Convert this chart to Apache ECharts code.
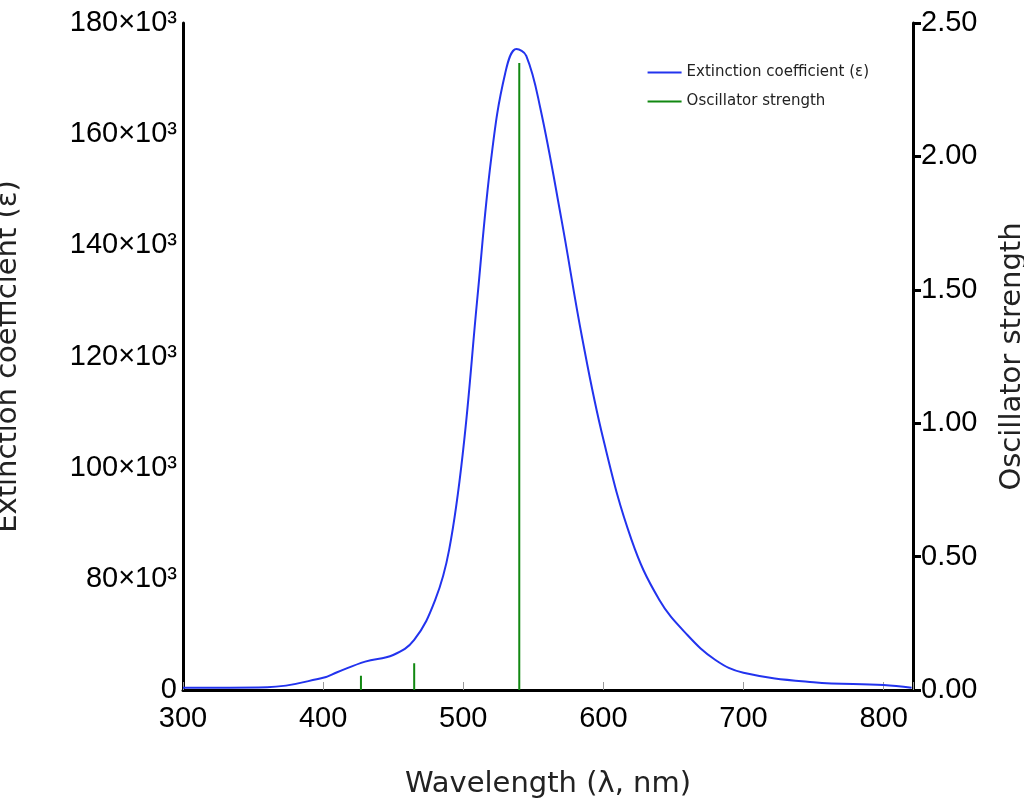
<!DOCTYPE html>
<html lang="en">
  <head>
    <meta charset="UTF-8" />
    <title>Spectrum</title>
    <script src="https://cdn.jsdelivr.net/npm/echarts@6/dist/echarts.min.js"></script>
  </head>
  <body style="margin: 0">
    <div id="chart" style="width: 1024px; height: 811px"></div>
    <script>
      // wavelength (nm) and extinction coefficient (in 10^3)
      var wavelengths = [300, 360, 400, 410, 430, 450, 465, 480, 490, 500, 510, 520, 530, 538, 545, 555, 570, 585, 600, 620, 640, 660, 680, 700, 750, 800, 820];
      var extinction = [60.4, 60.5, 62.2, 63.2, 65.1, 66.3, 69.0, 76.2, 85.3, 103.3, 130.3, 155.7, 171.0, 175.3, 174.1, 164.7, 144.8, 123.2, 105.1, 87.1, 76.2, 69.9, 65.4, 63.1, 61.4, 60.9, 60.4];
      // oscillator strength sticks
      var oscWavelengths = [427, 465, 540];
      var oscStrength = [0.053, 0.1, 2.35];

      var myChart = echarts.init(document.getElementById("chart"));
      var lineData = wavelengths.map(function (w, i) {
        return [w, extinction[i] * 1000];
      });
      var stickData = [];
      oscWavelengths.forEach(function (w, i) {
        stickData.push([w, 0], [w, oscStrength[i]], [w, null]);
      });

      var option = {
        animation: false,
        grid: { left: 183, right: 111, top: 23, bottom: 121, containLabel: false, outerBoundsMode: "none" },
        legend: {
          right: 150,
          top: 60,
          orient: "vertical",
          itemWidth: 34,
          itemHeight: 2,
          itemGap: 14,
          textStyle: { fontSize: 15, fontFamily: "DejaVu Sans", color: "#222" },
          data: [
            { name: "Extinction coefficient (\u03b5)", icon: "rect", itemStyle: { color: "#2233ee" } },
            { name: "Oscillator strength", icon: "rect", itemStyle: { color: "#118811" } },
          ],
        },
        xAxis: {
          type: "value",
          min: 300,
          max: 821,
          interval: 100,
          name: "Wavelength (\u03bb, nm)",
          nameLocation: "middle",
          nameGap: 80,
          nameTextStyle: { fontSize: 29, fontFamily: "DejaVu Sans", color: "#222" },
          axisLine: { lineStyle: { color: "#000", width: 3 } },
          axisTick: { inside: true, length: 8, lineStyle: { color: "#999" } },
          axisLabel: {
            fontSize: 29,
            color: "#000",
            margin: 14,
            formatter: function (v) {
              return v % 100 === 0 ? v : "";
            },
          },
          splitLine: { show: false },
        },
        yAxis: [
          {
            type: "value",
            min: 60000,
            max: 180000,
            interval: 20000,
            name: "Extinction coefficient (\u03b5)",
            nameLocation: "middle",
            nameGap: 160,
            nameTextStyle: { fontSize: 29, fontFamily: "DejaVu Sans", color: "#222" },
            axisLine: { show: true, lineStyle: { color: "#000", width: 3 } },
            axisTick: { show: false },
            axisLabel: {
              fontSize: 29,
              color: "#000",
              margin: 6,
              formatter: function (v) {
                return v === 60000 ? "0" : v / 1000 + "\u00d710\u00b3";
              },
            },
            splitLine: { show: false },
          },
          {
            type: "value",
            min: 0,
            max: 2.5,
            interval: 0.5,
            name: "Oscillator strength",
            nameLocation: "middle",
            nameGap: 85,
            nameTextStyle: { fontSize: 29, fontFamily: "DejaVu Sans", color: "#222" },
            axisLine: { show: true, lineStyle: { color: "#000", width: 3 } },
            axisTick: { show: true, length: 8, lineStyle: { color: "#000", width: 3 } },
            axisLabel: {
              fontSize: 29,
              color: "#000",
              margin: 8,
              formatter: function (v) {
                return v.toFixed(2);
              },
            },
            splitLine: { show: false },
          },
        ],
        series: [
          {
            name: "Extinction coefficient (\u03b5)",
            type: "line",
            smooth: 0.4,
            symbol: "none",
            yAxisIndex: 0,
            lineStyle: { color: "#2233ee", width: 2 },
            itemStyle: { color: "#2233ee" },
            data: lineData,
          },
          {
            name: "Oscillator strength",
            type: "line",
            symbol: "none",
            connectNulls: false,
            yAxisIndex: 1,
            lineStyle: { color: "#118811", width: 2 },
            itemStyle: { color: "#118811" },
            data: stickData,
          },
        ],
      };
      myChart.setOption(option);
    </script>
  </body>
</html>
